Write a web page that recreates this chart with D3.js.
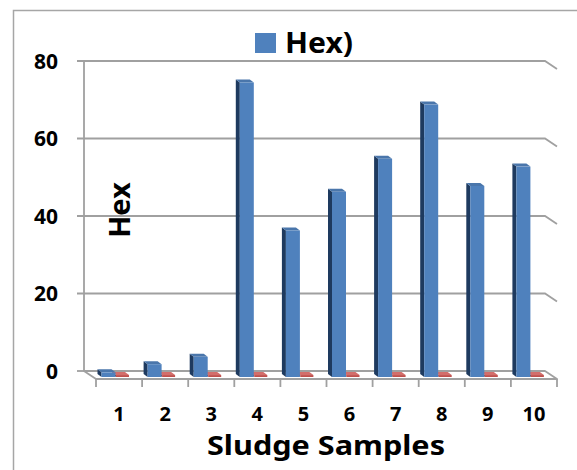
<!DOCTYPE html>
<html><head><meta charset="utf-8">
<script src="https://cdn.jsdelivr.net/npm/d3@7"></script>
<style>html,body{margin:0;padding:0;background:#fff;}svg{display:block;}</style>
</head><body>
<script>
const categories = ['1','2','3','4','5','6','7','8','9','10'];
const hexValues = [1.2, 3.3, 5.2, 76, 37.8, 47.8, 56.3, 70.3, 49.3, 54.3];
const otherValues = [0.5, 0.5, 0.5, 0.5, 0.5, 0.5, 0.5, 0.5, 0.5, 0.5];
const yTicks = [0, 20, 40, 60, 80];
const legendLabel = 'Hex)';
const yTitle = 'Hex';
const xTitle = 'Sludge Samples';

const W = 577, H = 470;
const font = "'Noto Sans', sans-serif";
const svg = d3.select('body').append('svg').attr('width', W).attr('height', H);

svg.append('rect').attr('x', 13.5).attr('y', 10.5).attr('width', 620).attr('height', 520)
  .attr('fill', 'none').attr('stroke', '#a6a6a6').attr('stroke-width', 1.5);

const y = d3.scaleLinear().domain([0, 80]).range([371, 61]);
const wallLeft = 84, wallRight = 545;
const depth = {dx: 12, dy: 8};
const x = d3.scaleBand().domain(categories).range([wallLeft + depth.dx, wallRight + depth.dx]);

const grid = '#a0a0a0';
const g = svg.append('g');

yTicks.forEach(t => {
  const yy = y(t);
  if (t > 0) {
    g.append('polyline').attr('points', `${wallLeft-7},${yy} ${wallRight},${yy} ${wallRight+depth.dx},${yy+depth.dy}`)
      .attr('fill', 'none').attr('stroke', grid).attr('stroke-width', 1.8);
  }
});
g.append('line').attr('x1', wallLeft).attr('x2', wallLeft).attr('y1', y(80)).attr('y2', y(0))
  .attr('stroke', grid).attr('stroke-width', 1.8);
const y0 = y(0);
g.append('polygon').attr('points', `${wallLeft},${y0} ${wallRight},${y0} ${wallRight+depth.dx},${y0+depth.dy} ${wallLeft+depth.dx},${y0+depth.dy}`)
  .attr('fill', 'none').attr('stroke', grid).attr('stroke-width', 1.8).attr('stroke-linejoin','round');
g.append('line').attr('x1', wallLeft-7).attr('x2', wallLeft).attr('y1', y0).attr('y2', y0)
  .attr('stroke', grid).attr('stroke-width', 1.8);
const tickXs = categories.map(c => x(c)).concat([x(categories[categories.length-1]) + x.bandwidth()]);
tickXs.forEach(tx => {
  g.append('line').attr('x1', tx).attr('x2', tx).attr('y1', y0+depth.dy).attr('y2', y0+depth.dy+8)
    .attr('stroke', grid).attr('stroke-width', 1.8);
});

svg.selectAll('.ylab').data(yTicks).enter().append('text')
  .attr('x', 58).attr('y', d => y(d)).attr('dy', '0.36em')
  .attr('text-anchor', 'end').attr('font-family', font).attr('font-weight', 'bold')
  .attr('font-size', 21).attr('fill', '#000').text(d => d);

svg.selectAll('.xlab').data(categories).enter().append('text')
  .attr('x', d => x(d) + x.bandwidth()/2).attr('y', 421)
  .attr('text-anchor', 'middle').attr('font-family', font).attr('font-weight', 'bold')
  .attr('font-size', 20).attr('fill', '#000').text(d => d);

const bd = {dx: 4, dy: 3};
function bar(cx, v, w, colFront, colSide, colTop) {
  const top = y(v) + 6, bottom = y0 + 6;
  const bg = svg.append('g');
  bg.append('polygon').attr('points', `${cx-bd.dx},${top-bd.dy} ${cx},${top} ${cx},${bottom} ${cx-bd.dx},${bottom-bd.dy}`).attr('fill', colSide);
  bg.append('polygon').attr('points', `${cx-bd.dx},${top-bd.dy} ${cx+w-bd.dx},${top-bd.dy} ${cx+w},${top} ${cx},${top}`).attr('fill', colTop);
  bg.append('rect').attr('x', cx).attr('y', top).attr('width', w).attr('height', Math.max(0, bottom-top)).attr('fill', colFront);
}
categories.forEach((c, i) => {
  bar(x(c) + 20, otherValues[i], 13, '#c0504d', '#7d2f2d', '#d36e6b');
});
categories.forEach((c, i) => {
  bar(x(c) + 5.5, hexValues[i], 14, '#4f81bd', '#1e3a5f', '#4a76ab');
});

svg.append('rect').attr('x', 255).attr('y', 33).attr('width', 21).attr('height', 20).attr('fill', '#4f81bd');
svg.append('text').attr('x', 285).attr('y', 53).attr('font-family', font).attr('font-weight', 'bold')
  .attr('font-size', 28).attr('textLength', 68).attr('lengthAdjust', 'spacingAndGlyphs')
  .attr('fill', '#000').text(legendLabel);

svg.append('text').attr('transform', 'translate(130,210) rotate(-90)')
  .attr('text-anchor', 'middle').attr('font-family', font).attr('font-weight', 'bold')
  .attr('font-size', 29).attr('fill', '#000').text(yTitle);

svg.append('text').attr('x', 326).attr('y', 455).attr('text-anchor', 'middle')
  .attr('font-family', font).attr('font-weight', 'bold').attr('font-size', 26)
  .attr('textLength', 238).attr('lengthAdjust', 'spacingAndGlyphs')
  .attr('fill', '#000').text(xTitle);
</script>
</body></html>
